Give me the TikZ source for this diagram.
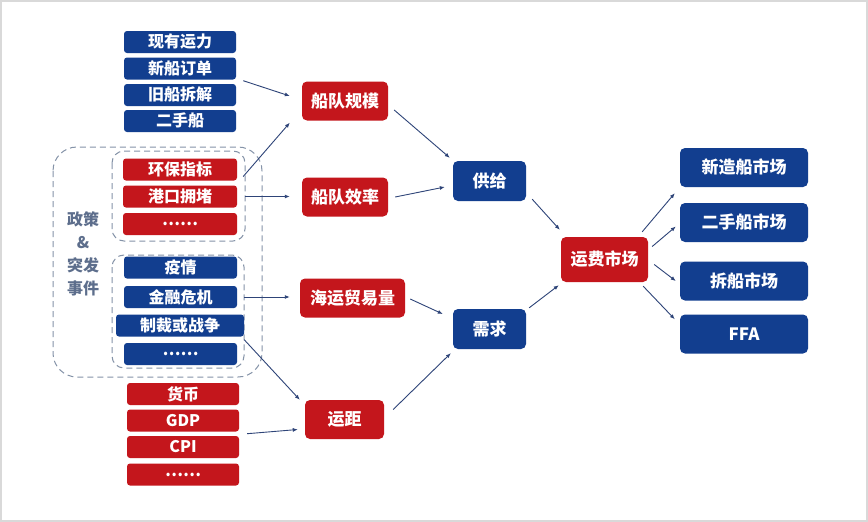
\documentclass[tikz,border=0pt]{standalone}
\usepackage{fontspec}
\usepackage{xcolor}
\usepackage{tikz}
\usetikzlibrary{arrows.meta}
\newfontfamily\cjk{Noto Sans CJK SC}
\definecolor{navy}{HTML}{123E8F}
\definecolor{crim}{HTML}{C4161C}
\definecolor{arrowc}{HTML}{2E4478}
\definecolor{dashc}{HTML}{8593A8}
\definecolor{notec}{HTML}{5D6E8C}

\begin{document}
\begin{tikzpicture}[x=1pt,y=-1pt,
  box/.style={rounded corners=3pt,inner sep=0pt,text=white,font=\cjk\bfseries\fontsize{16}{18}\selectfont},
  lbox/.style={box,minimum width=112pt,minimum height=22pt},
  mbox/.style={box,rounded corners=5pt,minimum height=39pt,font=\cjk\bfseries\fontsize{17}{20}\selectfont},
  arr/.style={draw=arrowc,line width=0.9pt,-{Latex[length=5pt,width=4pt]}},
  grp/.style={draw=dashc,line width=1pt,dash pattern=on 6pt off 4pt}]
\useasboundingbox (0,0) rectangle (868,522);
\fill[white] (0,0) rectangle (868,522);
\draw[black!15,line width=2pt] (1,1) rectangle (867,521);

% groups
\draw[grp,rounded corners=24pt] (53,147) rectangle (262,377);
\draw[grp,rounded corners=12pt] (112,151) rectangle (245,241);
\draw[grp,rounded corners=12pt] (112,255) rectangle (244,368);
\node[text=notec,font=\cjk\bfseries\fontsize{16}{23}\selectfont,align=center] (note) at (83,254) {政策\\\&\\突发\\事件};

% left column
\foreach \t/\nm/\y in {现有运力/cap/42,新船订单/order/68.5,旧船拆解/oldscrap/95,二手船/used/121}
  \node[lbox,fill=navy] (\nm) at (180,\y) {\t};
\foreach \t/\nm/\y in {环保指标/env/169.5,港口拥堵/port/196.5,……/pdots/224}
  \node[lbox,fill=crim,minimum width=114pt] (\nm) at (180,\y) {\t};
\foreach \t/\nm/\y in {疫情/epi/267.5,金融危机/fin/297,……/edots/354}
  \node[lbox,fill=navy,minimum width=113pt] (\nm) at (180.5,\y) {\t};
\node[lbox,fill=navy,minimum width=128pt] (war) at (180,325.5) {制裁或战争};
\foreach \t/\nm/\y in {货币/cur/394,GDP/gdp/420.5,CPI/cpi/447,……/mdots/474.5}
  \node[lbox,fill=crim] (\nm) at (183,\y) {\t};

% middle
\node[mbox,fill=crim,minimum width=86pt] (scale) at (345,101) {船队规模};
\node[mbox,fill=crim,minimum width=86pt] (eff) at (345,197) {船队效率};
\node[mbox,fill=crim,minimum width=105pt] (trade) at (352.5,298) {海运贸易量};
\node[mbox,fill=crim,minimum width=79pt] (dist) at (344.5,419.5) {运距};
\node[mbox,fill=navy,minimum width=73pt,minimum height=40pt] (supply) at (489.5,181) {供给};
\node[mbox,fill=navy,minimum width=73pt,minimum height=40pt] (demand) at (489.5,329) {需求};
\node[mbox,fill=crim,minimum width=87pt,minimum height=45pt] (freight) at (604.5,259.5) {运费市场};

% right column
\foreach \t/\nm/\y in {新造船市场/newb/167.5,二手船市场/second/222.5,拆船市场/scrap/281,FFA/ffa/334}
  \node[mbox,fill=navy,minimum width=128pt] (\nm) at (744,\y) {\t};

% arrows
\draw[arr] ([xshift=7pt,yshift=-1pt]order.south east) -- ([xshift=-12pt,yshift=5pt]scale.west);
\draw[arr] ([xshift=6pt,yshift=-7pt]env.east) -- ([xshift=-12pt,yshift=-2pt]scale.south west);
\draw[arr] ([xshift=8pt]port.east) -- ([xshift=-12pt]port.east -| eff.west);
\draw[arr] ([xshift=7pt]fin.east) -- ([xshift=-10pt]fin.east -| trade.west);
\draw[arr] ([yshift=-3pt]war.south east) -- ([xshift=-5pt]dist.north west);
\draw[arr] ([xshift=8pt,yshift=-2pt]gdp.south east) -- ([xshift=-7pt,yshift=-10pt]dist.west);
\draw[arr] ([xshift=6pt,yshift=-9pt]scale.east) -- ([xshift=-3pt,yshift=3pt]supply.north west);
\draw[arr] ([xshift=7pt]eff.east) -- ([xshift=-8pt,yshift=-6pt]supply.west);
\draw[arr] ([xshift=5pt,yshift=-1pt]trade.east) -- ([xshift=-10pt,yshift=15pt]demand.west);
\draw[arr] ([xshift=9pt,yshift=10pt]dist.east) -- ([xshift=-2pt,yshift=-4pt]demand.south west);
\draw[arr] ([xshift=6pt,yshift=2pt]supply.south east) -- ([xshift=-1pt,yshift=7pt]freight.north west);
\draw[arr] ([xshift=3pt,yshift=1pt]demand.north east) -- ([xshift=-2pt,yshift=-3pt]freight.south west);
\draw[arr] ([xshift=-6pt,yshift=5pt]freight.north east) -- ([xshift=-5pt,yshift=-6pt]newb.south west);
\draw[arr] ([xshift=4pt,yshift=13pt]freight.east) -- ([xshift=-4pt,yshift=-4pt]second.west);
\draw[arr] ([xshift=6pt,yshift=-5pt]freight.east) -- ([xshift=-4pt]scrap.west);
\draw[arr] ([xshift=-5pt,yshift=-4pt]freight.south east) -- ([xshift=-5pt,yshift=-5pt]ffa.north west);
\end{tikzpicture}
\end{document}
